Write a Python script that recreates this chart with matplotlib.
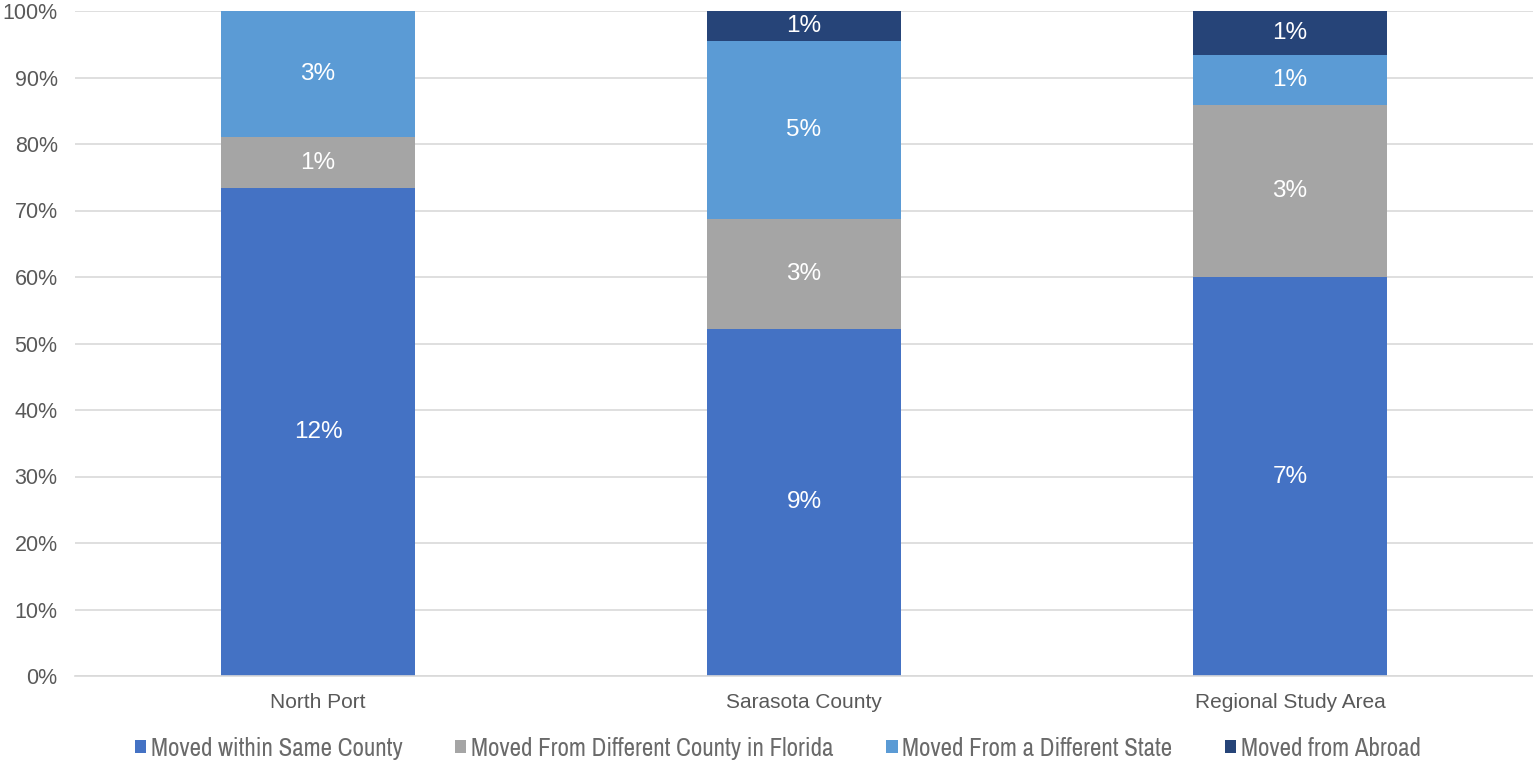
import matplotlib
matplotlib.use("Agg")
import matplotlib.pyplot as plt
import numpy as np
from matplotlib.ticker import PercentFormatter

categories = ["North Port", "Sarasota County", "Regional Study Area"]
series_names = ["Moved within Same County", "Moved From Different County in Florida",
                "Moved From a Different State", "Moved from Abroad"]
same_county = [11.6, 9.0, 7.0]
diff_county = [1.2, 2.86, 3.02]
diff_state = [3.0, 4.6, 0.88]
abroad = [0.0, 0.78, 0.77]
colors = ["#4472C4", "#A5A5A5", "#5B9BD5", "#264478"]

series = np.array([same_county, diff_county, diff_state, abroad])
totals = series.sum(axis=0)
shares = series / totals * 100

MAIN = ["Liberation Sans", "DejaVu Sans"]
NARROW = ["Archivo Narrow", "DejaVu Sans"]

fig = plt.figure(figsize=(15.33, 7.63), dpi=100)
ax = fig.add_axes([75/1533, 87/763, 1 - 75/1533, 665/763])

x = np.arange(len(categories))
bottom = np.zeros(len(categories))
for i, name in enumerate(series_names):
    ax.bar(x, shares[i], 0.40, bottom=bottom, color=colors[i], label=name, zorder=2)
    for j in range(len(categories)):
        if series[i, j] > 0:
            ax.text(x[j], bottom[j] + shares[i, j] / 2, f"{series[i, j]:.0f}%",
                    ha="center", va="center", color="white", fontsize=17.5,
                    family=MAIN)
    bottom += shares[i]

ax.set_xlim(-0.5, 2.5)
ax.set_ylim(0, 100)
ax.set_yticks(np.arange(0, 101, 10))
ax.yaxis.set_major_formatter(PercentFormatter(decimals=0))
ax.grid(axis="y", color="#D9D9D9", linewidth=1.2, zorder=0)
for s in ["top", "right", "left"]:
    ax.spines[s].set_visible(False)
ax.spines["bottom"].set_color("#D9D9D9")
ax.spines["bottom"].set_linewidth(1.2)
ax.tick_params(axis="both", length=0, colors="#595959")
ax.tick_params(axis="x", pad=12, labelsize=15)
ax.tick_params(axis="y", pad=12.5, labelsize=15.5)
ax.set_xticks(x)
ax.set_xticklabels(categories)
for lbl in ax.get_xticklabels() + ax.get_yticklabels():
    lbl.set_family(MAIN)

leg = fig.legend(loc="center", bbox_to_anchor=(778/1533, 1 - 748/763), ncol=4,
                 frameon=False, handlelength=0.45, handleheight=0.45, handletextpad=0.2,
                 columnspacing=2.1,
                 prop={"family": NARROW, "size": 18})
for t in leg.get_texts():
    t.set_color("#6a6a6a")

fig.savefig("out.png", dpi=100)
